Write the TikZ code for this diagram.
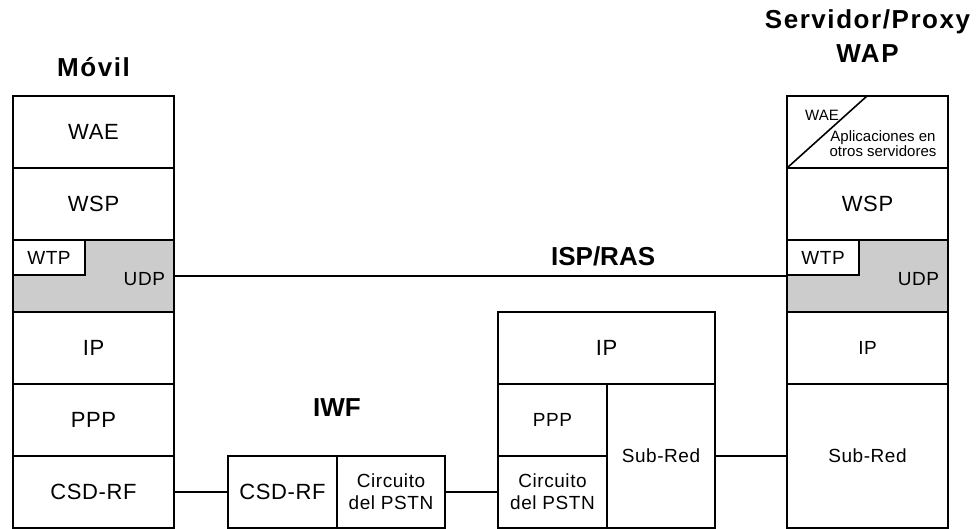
\documentclass[tikz,border=0pt]{standalone}
\usepackage{fontspec}
\setmainfont{Liberation Sans}
\newfontfamily\spacedfont{Liberation Sans}[LetterSpace=6]
\newfontfamily\layerfont{Liberation Sans}[LetterSpace=3]
\usepackage{tikz}
\usetikzlibrary{positioning,calc}
\definecolor{udpgray}{RGB}{204,204,204}

\begin{document}
\begin{tikzpicture}[
  x=1pt, y=-1pt,
  every node/.style={font=\fontsize{22}{25}\selectfont\layerfont},
  layer/.style={draw, line width=1.6pt, inner sep=0pt, outer sep=0pt, minimum width=161pt, minimum height=72pt, align=center},
  small/.style={font=\fontsize{19}{22}\selectfont\layerfont},
  tiny/.style={font=\fontsize{15}{15}\selectfont, inner sep=0pt},
  head/.style={font=\fontsize{26}{34}\selectfont\bfseries, align=center, inner sep=0pt},
  spaced/.style={font=\fontsize{26}{34}\selectfont\spacedfont\bfseries},
  udpbox/.style={layer, small, fill=udpgray, text width=143pt, align=right, text height=19pt},
  link/.style={line width=1.6pt}
]
\useasboundingbox (0,0) rectangle (979,529);

\node[layer, anchor=north west] (mwae) at (13,96) {WAE};
\node[layer, below=0pt of mwae] (mwsp) {WSP};
\node[udpbox, below=0pt of mwsp] (mudp) {UDP};
\node[layer, small, fill=white, minimum width=72pt, minimum height=35pt, anchor=north west] (mwtp) at (mudp.north west) {WTP};
\node[layer, below=0pt of mudp] (mip) {IP};
\node[layer, below=0pt of mip] (mppp) {PPP};
\node[layer, below=0pt of mppp] (mcsd) {CSD-RF};
\node[head, spaced, above=19pt of mwae] (movil) {Móvil};

\node[layer, minimum width=109pt, anchor=north west] (iwfcsd) at (228,456) {CSD-RF};
\node[layer, small, minimum width=108pt, right=0pt of iwfcsd] (iwfpstn) {Circuito\\del PSTN};
\node[head, above=39pt of iwfcsd.north east] (iwf) {IWF};

\node[layer, minimum width=217pt, anchor=north west] (rip) at (498,312) {IP};
\node[layer, small, minimum width=109pt, below=0pt of rip.south west, anchor=north west] (rppp) {PPP};
\node[layer, small, minimum width=109pt, below=0pt of rppp] (rpstn) {Circuito\\del PSTN};
\node[layer, small, minimum width=108pt, minimum height=144pt, below=0pt of rip.south east, anchor=north east] (rsub) {Sub-Red};

\node[layer, anchor=north west] (swae) at (787,96) {};
\draw[link] (swae.south west) -- ([xshift=80pt]swae.north west);
\node[tiny] (swaetxt) at (822,115) {WAE};
\node[tiny, align=center] (sapps) at (883,144) {Aplicaciones en\\otros servidores};
\node[layer, below=0pt of swae] (swsp) {WSP};
\node[udpbox, below=0pt of swsp] (sudp) {UDP};
\node[layer, small, fill=white, minimum width=72pt, minimum height=35pt, anchor=north west] (swtp) at (sudp.north west) {WTP};
\node[layer, small, below=0pt of sudp] (sip) {IP};
\node[layer, small, minimum height=144pt, below=0pt of sip] (ssub) {Sub-Red};
\node[head, spaced, above=33pt of swae] (server) {Servidor/Proxy\\WAP};

\draw[link] (mudp) -- node[head, pos=0.7, above=9pt] {ISP/RAS} (sudp);
\draw[link] (mcsd) -- (iwfcsd);
\draw[link] (iwfpstn) -- (rpstn);
\draw[link] (rsub) -- (ssub);
\end{tikzpicture}
\end{document}
